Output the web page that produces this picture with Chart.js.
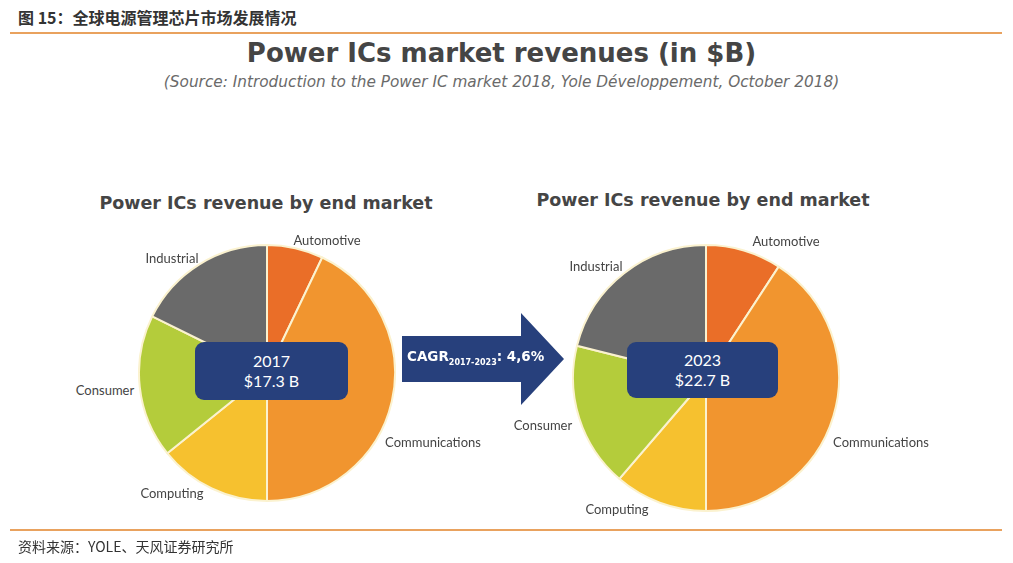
<!DOCTYPE html>
<html><head><meta charset="utf-8">
<script src="https://cdn.jsdelivr.net/npm/chart.js@4"></script>
<style>
html,body{margin:0;padding:0;background:#fff;width:1013px;height:563px;overflow:hidden;position:relative;font-family:"DejaVu Sans",sans-serif}
.abs{position:absolute;white-space:nowrap}
.lbl{position:absolute;white-space:nowrap;font-family:Lato,"Open Sans",sans-serif;font-size:13px;color:#444;transform:translate(-50%,-50%)}
.box{position:absolute;background:#27407c;border-radius:9px;color:#fff;font-family:Lato,sans-serif;font-size:16px;line-height:20px;text-align:center;display:flex;flex-direction:column;justify-content:center}
</style></head><body>
<script>
const categories = ["Automotive","Communications","Computing","Consumer","Industrial"];
const share2017 = [7.1, 42.9, 14.2, 18.1, 17.7];
const share2023 = [9.2, 40.8, 11.3, 17.6, 21.1];
const totals = ["$17.3 B", "$22.7 B"];
const years = ["2017", "2023"];
const cagrText = "4,6%";
const sliceColors = ["#ea6e28","#f1952f","#f6c12f","#b4cc3b","#6a6a6a"];
</script>
<div class="abs" style="left:18px;top:5px;font-family:'Noto Sans CJK SC';font-weight:bold;font-size:16px;color:#333">图 15：全球电源管理芯片市场发展情况</div>
<div class="abs" style="left:10px;top:32px;width:992px;height:2px;background:#e9a25e"></div>
<div class="abs" style="left:0;width:1003px;top:38px;text-align:center;font-weight:bold;font-size:26px;color:#454545;">Power ICs market revenues (in $B)</div>
<div class="abs" style="left:0;width:1003px;top:73px;text-align:center;font-style:italic;font-size:15.3px;color:#6a6a6a">(Source: Introduction to the Power IC market 2018, Yole Développement, October 2018)</div>
<div class="abs" style="left:266px;top:203px;transform:translate(-50%,-50%);font-weight:bold;font-size:17.5px;color:#454545">Power ICs revenue by end market</div>
<div class="abs" style="left:703px;top:200px;transform:translate(-50%,-50%);font-weight:bold;font-size:17.5px;color:#454545">Power ICs revenue by end market</div>

<canvas id="c1" style="position:absolute;left:138px;top:244px;width:258px;height:258px"></canvas>
<canvas id="c2" style="position:absolute;left:572px;top:244px;width:268px;height:268px"></canvas>

<div class="lbl" style="left:327px;top:240px">Automotive</div>
<div class="lbl" style="left:172px;top:258px">Industrial</div>
<div class="lbl" style="left:105px;top:390px">Consumer</div>
<div class="lbl" style="left:172px;top:493px">Computing</div>
<div class="lbl" style="left:433px;top:442px">Communications</div>
<div class="lbl" style="left:786px;top:241px">Automotive</div>
<div class="lbl" style="left:596px;top:266px">Industrial</div>
<div class="lbl" style="left:543px;top:425px">Consumer</div>
<div class="lbl" style="left:617px;top:509px">Computing</div>
<div class="lbl" style="left:881px;top:442px">Communications</div>

<div class="box" id="b1" style="left:195px;top:342px;width:153px;height:58px"></div>
<div class="box" id="b2" style="left:627px;top:342px;width:151px;height:56px"></div>

<svg class="abs" style="left:0;top:0" width="1013" height="563">
<polygon points="402,336 521,336 521,313 564,359 521,405 521,382 402,382" fill="#27407c"/>
</svg>
<div class="abs" id="cagr" style="left:407px;top:348px;font-weight:bold;font-size:13.5px;color:#fff"></div>

<div class="abs" style="left:10px;top:529px;width:992px;height:2px;background:#e9a25e"></div>
<div class="abs" style="left:18px;top:536px;font-family:'Noto Sans CJK SC';font-size:14px;color:#333">资料来源：YOLE、天风证券研究所</div>

<script>
document.getElementById('b1').innerHTML = years[0] + '<br>' + totals[0];
document.getElementById('b2').innerHTML = years[1] + '<br>' + totals[1];
document.getElementById('cagr').innerHTML = 'CAGR<sub style="font-size:8px">' + years[0] + '-' + years[1] + '</sub>: ' + cagrText;
function mk(id, data){
  new Chart(document.getElementById(id), {
    type: 'pie',
    data: { labels: categories, datasets: [{ data: data, backgroundColor: sliceColors, borderColor: '#fbf2cf', borderWidth: 2 }] },
    options: { responsive: false, animation: false, layout:{padding:0},
      plugins: { legend: { display: false }, tooltip: { enabled: false } } }
  });
}
['c1','c2'].forEach(id=>{const c=document.getElementById(id); c.width=parseInt(c.style.width); c.height=parseInt(c.style.height);});
mk('c1', share2017);
mk('c2', share2023);
</script>
</body></html>
